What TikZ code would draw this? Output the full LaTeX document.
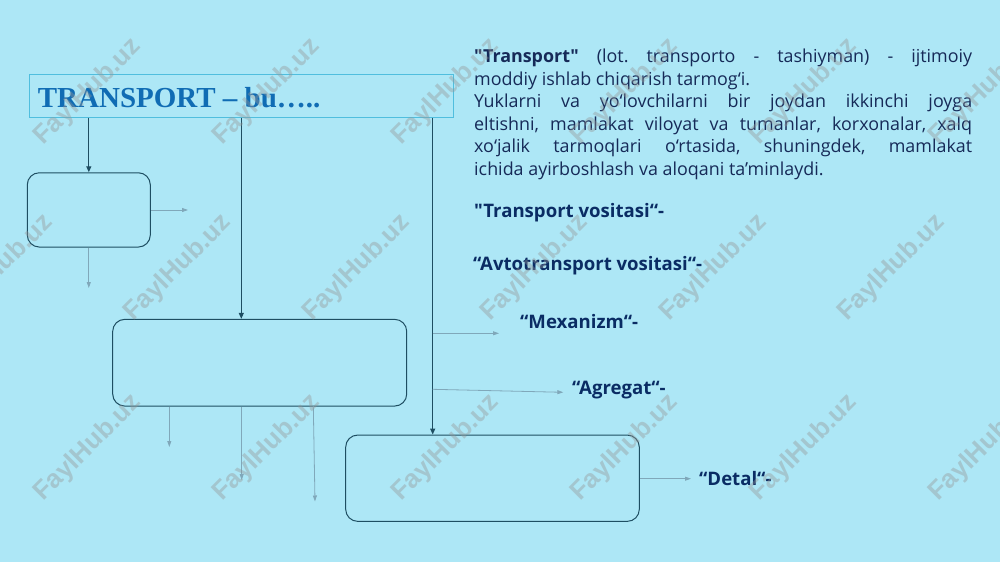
\documentclass[tikz,border=0pt]{standalone}
\usepackage{fontspec}
\newfontfamily\body{Open Sans}
\newfontfamily\titlefont{Liberation Serif}
\newfontfamily\wmfont{Liberation Sans}
\usetikzlibrary{arrows.meta}
\frenchspacing
\definecolor{bg}{RGB}{173,231,246}
\definecolor{titleborder}{RGB}{80,190,222}
\definecolor{titlec}{RGB}{16,108,180}
\definecolor{darkc}{RGB}{30,78,98}
\definecolor{lightc}{RGB}{128,168,186}
\definecolor{textc}{RGB}{22,42,88}
\definecolor{labelc}{RGB}{10,44,100}
\definecolor{wmc}{RGB}{150,150,150}
\tikzset{
  box/.style={draw=darkc, line width=1pt, rounded corners=12pt, inner sep=0pt},
  darkarrow/.style={draw=darkc, line width=1.2pt, -{Triangle[length=6pt,width=5pt]}},
  lightarrow/.style={draw=lightc, line width=0.8pt, -{Triangle[length=6pt,width=4pt]}},
  para/.style={anchor=base west, inner sep=0pt, text=textc, font=\body\fontsize{17.9}{21}\selectfont},
  lbl/.style={anchor=base west, inner sep=0pt, text=labelc, font=\body\bfseries\fontsize{18.6}{21}\selectfont},
  wm/.style={rotate=45, inner sep=0pt, text=wmc, text opacity=0.4, font=\wmfont\bfseries\fontsize{26}{26}\selectfont}
}
\begin{document}
\begin{tikzpicture}[x=1pt,y=-1pt]
\fill[bg] (0,0) rectangle (1000,562);
\useasboundingbox (0,0) rectangle (1000,562);

% title
\node[draw=titleborder, line width=0.7pt, minimum width=424pt, minimum height=42.6pt, inner sep=0pt] (title) at (241.3,96) {};
\node[anchor=base west, inner sep=0pt, text=titlec, font=\titlefont\bfseries\fontsize{29}{29}\selectfont] (ttext) at (37.7,107.3) {TRANSPORT – bu…..};

% boxes
\node[box, minimum width=123pt, minimum height=74.3pt] (b1) at (88.8,209.9) {};
\node[box, minimum width=294pt, minimum height=86.7pt] (b2) at (259.7,362.7) {};
\node[box, minimum width=293.6pt, minimum height=86.3pt] (b3) at (492.5,478.2) {};

% reference x coordinates
\coordinate (x1) at (88.8,0);
\coordinate (x2) at (241.3,0);
\coordinate (x3) at (432.7,0);

% dark connectors
\draw[darkarrow] (title.south -| x1) -- (b1.north);
\draw[darkarrow] (title.south -| x2) -- (b2.north -| x2);
\draw[darkarrow] (title.south -| x3) -- (b3.north -| x3);

% light arrows free ends
\coordinate (e1) at (188,210);
\coordinate (e2) at (88.8,288);
\coordinate (e3) at (169.3,447);
\coordinate (e4) at (241.7,480);
\coordinate (e5) at (315,501.5);
\coordinate (s5) at (313.3,406);
\coordinate (e6) at (499,333.3);
\coordinate (s6) at (432.7,333.3);
\coordinate (e7) at (563.3,392.3);
\coordinate (s7) at (432.7,389.3);
\coordinate (e8) at (691,478.7);

\draw[lightarrow] (b1.east |- e1) -- (e1);
\draw[lightarrow] (b1.south) -- (e2);
\draw[lightarrow] (b2.south -| e3) -- (e3);
\draw[lightarrow] (b2.south -| e4) -- (e4);
\draw[lightarrow] (s5) -- (e5);
\draw[lightarrow] (s6) -- (e6);
\draw[lightarrow] (s7) -- (e7);
\draw[lightarrow] (b3.east |- e8) -- (e8);

% paragraph
\node[para] (p1) at (474,62.5) {\makebox[498pt][s]{\textbf{"Transport"} (lot. transporto - tashiyman) - ijtimoiy}};
\node[para] (p2) at (474,85) {moddiy ishlab chiqarish tarmog‘i.};
\node[para] (p3) at (474,107.5) {\makebox[498pt][s]{Yuklarni va yo‘lovchilarni bir joydan ikkinchi joyga}};
\node[para] (p4) at (474,130) {\makebox[498pt][s]{eltishni, mamlakat viloyat va tumanlar, korxonalar, xalq}};
\node[para] (p5) at (474,152.5) {\makebox[498pt][s]{xo‘jalik tarmoqlari o‘rtasida, shuningdek, mamlakat}};
\node[para] (p6) at (474,175) {ichida ayirboshlash va aloqani ta’minlaydi.};

% labels
\node[lbl] (l1) at (474,217) {"Transport vositasi“-};
\node[lbl] (l2) at (473,270) {“Avtotransport vositasi“-};
\node[lbl] (l3) at (520,328) {“Mexanizm“-};
\node[lbl] (l4) at (572,394) {“Agregat“-};
\node[lbl] (l5) at (699,485) {“Detal“-};

% watermarks
\foreach \x in {88,267,446,625,804,983} {
  \node[wm] (wma-\x) at (\x,92) {FaylHub.uz};
  \node[wm] (wmc-\x) at (\x,448) {FaylHub.uz};
}
\foreach \x in {0,178,357,535,714,892} {
  \node[wm] (wmb-\x) at (\x,268) {FaylHub.uz};
}
\end{tikzpicture}
\end{document}
